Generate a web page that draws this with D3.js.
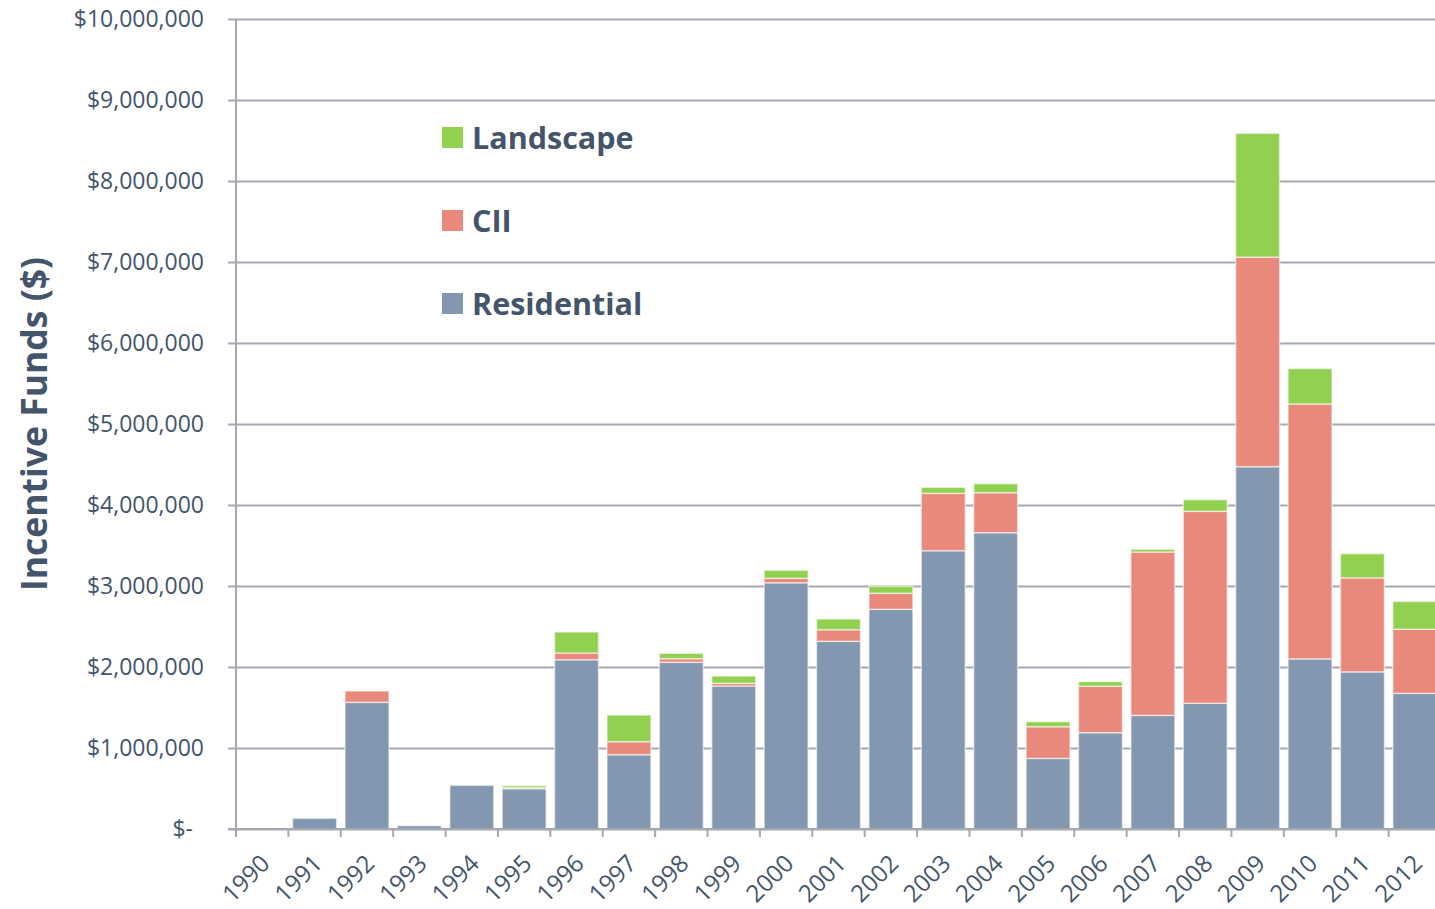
<!DOCTYPE html>
<html>
<head>
<meta charset="utf-8">
<script src="https://cdn.jsdelivr.net/npm/d3@7"></script>
<style>
  body { margin: 0; background: #fff; }
  #graf { width: 1435px; height: 909px; }
  text { font-family: 'Open Sans', sans-serif; fill: #44546A; }
</style>
</head>
<body>
<div id="graf"></div>
<script>
// datos
anios = ['1990','1991','1992','1993','1994','1995','1996','1997','1998','1999','2000','2001',
         '2002','2003','2004','2005','2006','2007','2008','2009','2010','2011','2012']
residencial = [0, 132000, 1564000, 41000, 539000, 498000, 2090000, 918000, 2058000, 1765000,
               3040000, 2317000, 2712000, 3436000, 3658000, 872000, 1189000, 1403000, 1552000,
               4473000, 2100000, 1940000, 1675000]
cii = [0, 0, 140000, 0, 0, 12000, 83000, 160000, 45000, 33000, 55000, 143000, 198000, 708000,
       494000, 391000, 573000, 2017000, 2370000, 2587000, 3147000, 1161000, 791000]
paisaje = [0, 0, 0, 0, 0, 25000, 259000, 329000, 66000, 91000, 99000, 133000, 86000, 74000,
           111000, 62000, 57000, 33000, 144000, 1529000, 438000, 298000, 343000]
series = ['Residential', 'CII', 'Landscape']
yTicks = [0, 1000000, 2000000, 3000000, 4000000, 5000000, 6000000, 7000000, 8000000, 9000000, 10000000]

ancho_total = 1435
alto_total = 909
margins = { top: 19, left: 236, right: -6, bottom: 80 }
ancho = ancho_total - margins.left - margins.right
alto = alto_total - margins.top - margins.bottom

svg = d3.select('#graf').append('svg')
        .attr('width', ancho_total)
        .attr('height', alto_total)

g = svg.append('g')
       .attr('transform', `translate(${margins.left}, ${margins.top})`)

datos = anios.map((a, i) => ({ anio: a, Residential: residencial[i], CII: cii[i], Landscape: paisaje[i] }))
pila = d3.stack().keys(series)(datos)

x = d3.scaleBand().domain(anios).range([0, ancho]).paddingInner(0.16).paddingOuter(0.08)
y = d3.scaleLinear().domain([0, 10000000]).range([alto, 0])
color = d3.scaleOrdinal().domain(series).range(['#8497B0', '#E8897C', '#92D050'])

gris = '#A3A8B1'

// lineas de la cuadricula
g.append('g')
  .call(d3.axisLeft(y).tickValues(yTicks).tickSize(-ancho - 8).tickFormat(''))
  .attr('transform', 'translate(-8,0)')
  .call(s => s.select('.domain').remove())
  .selectAll('line')
    .attr('stroke', gris)
    .attr('stroke-width', 2)

// etiquetas eje y
fmt = d3.format(',')
g.append('g')
  .selectAll('text')
  .data(yTicks)
  .join('text')
    .attr('x', d => d == 0 ? -43 : -32)
    .attr('y', d => y(d))
    .attr('dy', '0.35em')
    .attr('text-anchor', 'end')
    .attr('font-size', '23px')
    .text(d => d == 0 ? '$-' : '$' + fmt(d))

// barras
g.append('g')
  .selectAll('g')
  .data(pila)
  .join('g')
    .attr('fill', d => color(d.key))
  .selectAll('rect')
  .data(d => d)
  .join('rect')
    .attr('x', d => x(d.data.anio))
    .attr('y', d => y(d[1]))
    .attr('width', x.bandwidth())
    .attr('height', d => y(d[0]) - y(d[1]))
    .attr('stroke', d => (d[1] - d[0]) > 0 ? '#fff' : 'none')
    .attr('stroke-opacity', 0.55)
    .attr('stroke-width', 1.5)

// eje x con marcas entre categorias
paso = x.step()
bordes = d3.range(anios.length + 1).map(i => i * paso)
g.append('line')
  .attr('x1', -8).attr('x2', ancho)
  .attr('y1', alto).attr('y2', alto)
  .attr('stroke', gris).attr('stroke-width', 2)
g.append('line')
  .attr('x1', 0).attr('x2', 0)
  .attr('y1', 0).attr('y2', alto + 8)
  .attr('stroke', gris).attr('stroke-width', 2)
g.append('g')
  .selectAll('line')
  .data(bordes)
  .join('line')
    .attr('x1', d => d).attr('x2', d => d)
    .attr('y1', alto).attr('y2', alto + 8)
    .attr('stroke', gris).attr('stroke-width', 2)

g.append('g')
  .selectAll('text')
  .data(anios)
  .join('text')
    .attr('text-anchor', 'end')
    .attr('font-size', '24px')
    .attr('transform', d => `translate(${x(d) + x.bandwidth() / 2 + 9}, ${alto + 36}) rotate(-45)`)
    .text(d => d)

// titulo eje y
svg.append('text')
  .attr('transform', `translate(47, 424) rotate(-90)`)
  .attr('text-anchor', 'middle')
  .attr('font-size', '35.5px')
  .attr('font-weight', 'bold')
  .text('Incentive Funds ($)')

// leyenda
leyenda = svg.append('g')
  .selectAll('g')
  .data(series.slice().reverse())
  .join('g')
    .attr('transform', (d, i) => `translate(442, ${127 + i * 83})`)
leyenda.append('rect')
  .attr('width', 21).attr('height', 21)
  .attr('fill', d => color(d))
leyenda.append('text')
  .attr('x', 30)
  .attr('y', 11)
  .attr('dy', '0.36em')
  .attr('font-size', '30.5px')
  .attr('font-weight', 'bold')
  .text(d => d)
</script>
</body>
</html>
